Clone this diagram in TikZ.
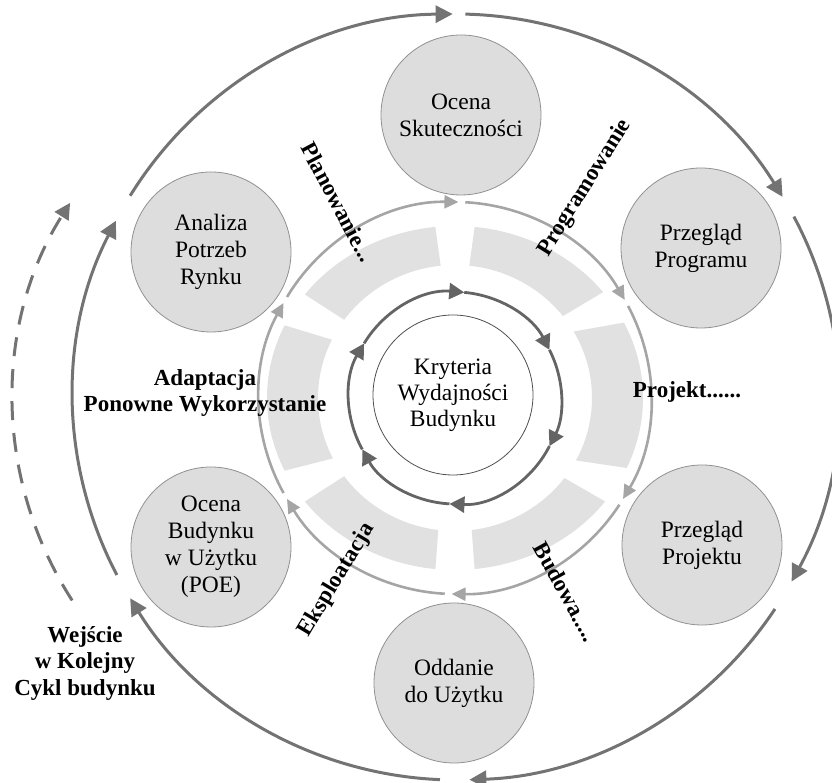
\documentclass[tikz,border=0pt]{standalone}
\usepackage{fontspec}
\setmainfont{Liberation Serif}
\usetikzlibrary{arrows.meta,calc}
\definecolor{nodefill}{RGB}{221,221,221}
\definecolor{nodeborder}{RGB}{145,145,145}
\definecolor{segfill}{RGB}{225,225,225}
\definecolor{lightring}{RGB}{165,165,165}
\definecolor{darkring}{RGB}{100,100,100}
\definecolor{outerc}{RGB}{115,115,115}
\begin{document}
\begin{tikzpicture}[x=1pt,y=1pt,
  phase/.style={circle, minimum size=160pt, inner sep=0pt, fill=nodefill, draw=nodeborder, line width=0.8pt, align=center, font=\fontsize{23.5}{27}\selectfont},
  core/.style={circle, minimum size=160pt, inner sep=0pt, fill=white, draw=darkring!80!black, line width=0.8pt, align=center, font=\fontsize{23.5}{26}\selectfont},
  lbl/.style={align=center, font=\fontsize{23}{26.5}\selectfont\bfseries, inner sep=0pt},
  outerarc/.style={draw=outerc, line width=3pt, -{Triangle[length=17pt,width=17pt]}},
  lightarc/.style={draw=lightring, line width=2.6pt, -{Triangle[length=14pt,width=13pt]}},
  darkarc/.style={draw=darkring, line width=2.8pt, -{Triangle[length=15pt,width=16pt]}},
  dasharc/.style={draw=outerc, line width=3pt, dash pattern=on 19pt off 13pt, -{Triangle[length=16pt,width=16pt]}}
]
\useasboundingbox (0,0) rectangle (832,783);
\clip (0,0) rectangle (832,783);
\coordinate (O) at (455,385);
\coordinate (OO) at (456,386);
\coordinate (OD) at (382,383);

% segmented light ring
\foreach \ao/\bo/\ai/\bi in {38/84/38/84, 96/143/96/144, 155/205/154/207, 217/264/216/263, 276/323/277/323, -24/26/-28/30}{
  \fill[segfill] (O) ++({188*cos(\ao)},{172*sin(\ao)}) arc[start angle=\ao, end angle=\bo, x radius=188, y radius=172]
    -- ($(O)+({137*cos(\bi)},{133*sin(\bi)})$) arc[start angle=\bi, end angle=\ai, x radius=137, y radius=133] -- cycle;
}

% light ring arrows
\foreach \s/\e in {209/151, 149/89, 87/30, 28/-31, -33/-91, -93/-149}{
  \draw[lightarc] (O) ++(\s:196) arc[start angle=\s, end angle=\e, radius=196];
}

% dark ring arrows
\foreach \s/\e in {149/85, 85/27, 27/-27, -27/-93, -93/-151, -151/-211}{
  \draw[darkarc] (O) ++(\s:106) arc[start angle=\s, end angle=\e, radius=106];
}

% outer ring arrows
\foreach \s/\e in {148.3/90.5, 88.6/31.5, 28.1/-28.8, -33.6/-88, -92.4/-148.3, -152.3/-207.4}{
  \draw[outerarc] (OO) ++(\s:383) arc[start angle=\s, end angle=\e, radius=383];
}

% dashed re-entry arc
\draw[dasharc] (OD) ++(212.9:369) arc[start angle=212.9, end angle=147.7, radius=369];

% nodes
\node[core] (kryt) at (453,388) {Kryteria\\Wydajności\\Budynku};
\node[phase] (ocena) at (461,668) {Ocena\\Skuteczności};
\node[phase] (prog) at (701,535) {Przegląd\\Programu};
\node[phase] (proj) at (702,238) {Przegląd\\Projektu};
\node[phase] (odd) at (454,100) {Oddanie\\do Użytku};
\node[phase] (poe) at (211,236) {Ocena\\Budynku\\w Użytku\\(POE)};
\node[phase] (anal) at (211,531) {Analiza\\Potrzeb\\Rynku};

% labels
\node[lbl, rotate=-62] (plan) at (338,581) {Planowanie...};
\node[lbl, rotate=58] (progl) at (585,595) {Programowanie};
\node[lbl] (projl) at (687,391) {Projekt......};
\node[lbl, rotate=-61] (bud) at (566,191) {Budowa.....};
\node[lbl, rotate=59] (eks) at (337,203) {Eksploatacja};
\node[lbl] (adapt) at (205,390) {Adaptacja\\Ponowne Wykorzystanie};
\node[lbl] (wej) at (85,120) {Wejście\\w Kolejny\\Cykl budynku};
\end{tikzpicture}
\end{document}
